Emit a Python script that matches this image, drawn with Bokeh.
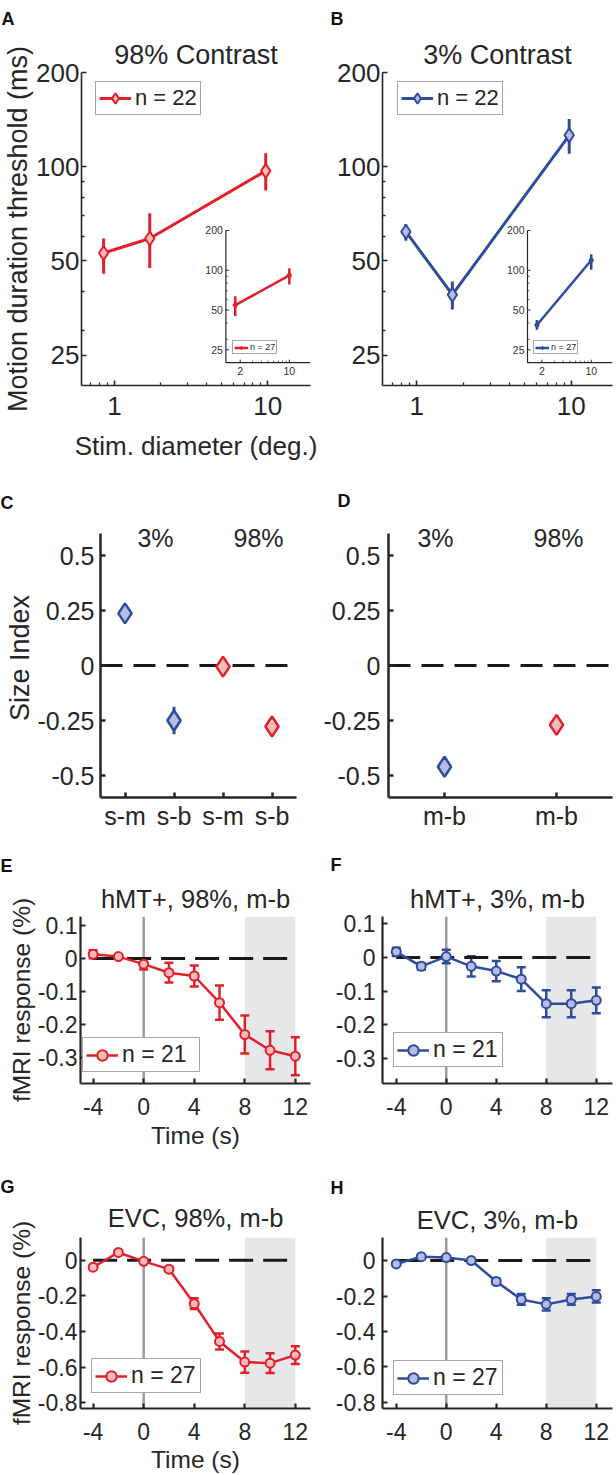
import math
from bokeh.plotting import figure
from bokeh.models import (Range1d, LogScale, FixedTicker, Label, Legend, LegendItem,
                          Whisker, TeeHead, Span, BoxAnnotation, ColumnDataSource,
                          CustomJSTickFormatter, Title)
from bokeh.layouts import row, column
from bokeh.core.properties import value
from bokeh.embed import file_html
from bokeh.resources import INLINE

# ---------------- data ----------------
# A / B : motion duration threshold (ms) vs stimulus diameter (deg.)
diameters = [0.85, 1.7, 9.7]
thr_98 = [53.0, 59.0, 97.0]
thr_98_lo = [45.5, 47.5, 84.0]
thr_98_hi = [59.0, 71.0, 110.5]
thr_3 = [62.0, 39.0, 126.0]
thr_3_lo = [58.0, 35.0, 110.0]
thr_3_hi = [65.5, 43.0, 142.0]
# insets (n = 27)
inset_diameters = [1.7, 10.0]
ins_98 = [54.5, 91.5]
ins_98_lo = [45.0, 78.0]
ins_98_hi = [63.5, 103.5]
ins_3 = [38.5, 119.0]
ins_3_lo = [35.5, 101.0]
ins_3_hi = [42.0, 132.0]
thr_ticks = [25, 50, 100, 200]
thr_minor = [30, 40, 60, 70, 80, 90]
diam_ticks = [1, 10]
diam_minor = [0.7, 0.8, 0.9, 2, 3, 4, 5, 6, 7, 8, 9]
inset_xlim = [1.25, 20.0]
inset_ylim = [20.0, 200.0]
inset_thr_ticks = [25, 50, 100, 200]
inset_diam_ticks = [2, 10]
inset_diam_minor = [3, 4, 5, 6, 7, 8, 9]

# C / D : size index
c_pos = [1, 2, 3, 4]
c_labels = ["s-m", "s-b", "s-m", "s-b"]
c_index = [0.237, -0.25, -0.005, -0.277]
c_err = [0.03, 0.062, 0.03, 0.04]
c_contrast = ["3%", "3%", "98%", "98%"]
d_pos = [1, 2]
d_labels = ["m-b", "m-b"]
d_index = [-0.46, -0.27]
d_err = [0.045, 0.02]
d_contrast = ["3%", "98%"]
size_ticks = [-0.5, -0.25, 0, 0.25, 0.5]
size_lim = [-0.6, 0.6]

# E-H : fMRI time courses (m-b)
time_s = [-4, -2, 0, 2, 4, 6, 8, 10, 12]
time_ticks = [-4, 0, 4, 8, 12]
e_val = [0.013, 0.006, -0.017, -0.043, -0.053, -0.134, -0.231, -0.279, -0.297]
e_err = [0.012, 0.005, 0.016, 0.030, 0.032, 0.052, 0.058, 0.058, 0.058]
f_val = [0.017, -0.026, 0.003, -0.026, -0.040, -0.064, -0.137, -0.137, -0.127]
f_err = [0.012, 0.010, 0.020, 0.030, 0.030, 0.035, 0.040, 0.040, 0.038]
g_val = [-0.039, 0.044, -0.006, -0.050, -0.244, -0.456, -0.572, -0.578, -0.533]
g_err = [0.010, 0.010, 0.010, 0.012, 0.030, 0.045, 0.060, 0.055, 0.050]
h_val = [-0.019, 0.022, 0.017, 0.000, -0.118, -0.219, -0.247, -0.219, -0.202]
h_err = [0.008, 0.008, 0.008, 0.008, 0.015, 0.030, 0.035, 0.030, 0.035]
hmt_ticks = [-0.3, -0.2, -0.1, 0, 0.1]
evc_ticks = [-0.8, -0.6, -0.4, -0.2, 0]
stim_window = [8, 12]

# ---------------- style ----------------
FONT = "Liberation Sans"
TXT = "#262626"
RED, RED_F = "#e3202a", "#f6bcbc"
BLUE, BLUE_F = "#2f4b9c", "#b7bce3"
COL = {"3%": (BLUE, BLUE_F), "98%": (RED, RED_F)}

# page coordinates: figure box and frame box (x0, x1, y0, y1)
LAYOUT = {
    "A": dict(fig=(0, 320, 0, 470), frame=(80, 310, 70, 385)),
    "B": dict(fig=(320, 616, 0, 470), frame=(382, 612, 70, 385)),
    "C": dict(fig=(0, 320, 470, 832), frame=(100, 296, 518, 797)),
    "D": dict(fig=(320, 616, 470, 832), frame=(381, 612, 518, 797)),
    "E": dict(fig=(0, 320, 832, 1152), frame=(80, 310, 912, 1083)),
    "F": dict(fig=(320, 616, 832, 1152), frame=(382, 612, 916, 1087)),
    "G": dict(fig=(0, 320, 1152, 1475), frame=(80, 310, 1235, 1408)),
    "H": dict(fig=(320, 616, 1152, 1475), frame=(382, 612, 1237, 1408)),
}

num_fmt = "return (Math.round(tick*1e6)/1e6).toString();"


def make_fig(key, x_range, y_range, x_type="linear", y_type="linear"):
    X0, X1, Y0, Y1 = LAYOUT[key]["fig"]
    fx0, fx1, fy0, fy1 = LAYOUT[key]["frame"]
    p = figure(width=X1 - X0, height=Y1 - Y0, x_range=x_range, y_range=y_range,
               x_axis_type=x_type, y_axis_type=y_type, output_backend="svg",
               toolbar_location=None,
               min_border_left=fx0 - X0, min_border_right=X1 - fx1,
               min_border_top=fy0 - Y0, min_border_bottom=Y1 - fy1)
    p.outline_line_color = None
    p.xgrid.visible = False
    p.ygrid.visible = False
    p.background_fill_color = "white"
    p.border_fill_color = "white"
    return p


def style_axes(p, tick_size, lw, xstand, ystand):
    for ax in (p.xaxis[0], p.yaxis[0]):
        ax.axis_line_color = TXT
        ax.axis_line_width = lw
        ax.major_tick_line_color = TXT
        ax.major_tick_line_width = lw
        ax.minor_tick_line_color = TXT
        ax.minor_tick_line_width = lw * 0.8
        ax.major_tick_in = 5
        ax.major_tick_out = 0
        ax.minor_tick_in = 3
        ax.minor_tick_out = 0
        ax.major_label_text_font = FONT
        ax.major_label_text_font_size = f"{tick_size}px"
        ax.major_label_text_color = TXT
        ax.axis_label_text_font = FONT
        ax.axis_label_text_font_style = "normal"
        ax.axis_label_text_color = TXT
    p.xaxis[0].major_label_standoff = xstand
    p.yaxis[0].major_label_standoff = ystand


def set_axis_label(ax, text, size, standoff):
    ax.axis_label = text
    ax.axis_label_text_font_size = f"{size}px"
    ax.axis_label_standoff = standoff


def set_titles(p, key, title, size, title_x, gap, letter, letter_x, letter_gap):
    """Outer (figure) title holds the panel letter; an inner Title holds the panel title."""
    fx0, fx1, fy0, fy1 = LAYOUT[key]["frame"]
    p.title.text = letter
    p.title.align = "left"
    p.title.offset = letter_x - fx0
    p.title.standoff = letter_gap
    p.title.vertical_align = "top"
    p.title.text_font = FONT
    p.title.text_font_size = "18px"
    p.title.text_font_style = "bold"
    p.title.text_color = "#111111"
    if title:
        p.add_layout(Title(text=title, align="center", offset=title_x - (fx0 + fx1) / 2,
                           standoff=gap, vertical_align="top", text_font=FONT,
                           text_font_size=f"{size}px", text_font_style="normal",
                           text_color=TXT), "above")


def add_text(p, key, px, py, text, size, align="center"):
    fx0, fx1, fy0, fy1 = LAYOUT[key]["frame"]
    p.add_layout(Label(x=px - fx0, y=fy1 - py, x_units="screen", y_units="screen",
                       text=text, text_font=FONT, text_font_size=f"{size}px",
                       text_align=align, text_baseline="middle", text_color=TXT))


def add_legend(p, renderers, label, loc, font_size, glyph_w, glyph_h, padding,
               standoff, label_width, border_w):
    lg = Legend(items=[LegendItem(label=label, renderers=renderers)], location=loc,
                label_text_font=FONT, label_text_font_size=f"{font_size}px",
                label_text_color=TXT, glyph_width=glyph_w, glyph_height=glyph_h,
                padding=padding, spacing=0, margin=0, label_standoff=standoff,
                label_width=label_width, label_height=glyph_h,
                border_line_color="#4d4d4d", border_line_width=border_w,
                background_fill_color="white", background_fill_alpha=1.0)
    p.add_layout(lg)


def log_extra(lo, hi, f0, f1, total):
    l0, l1 = math.log10(lo), math.log10(hi)
    dpp = (l1 - l0) / (f1 - f0)
    return 10 ** (l0 - f0 * dpp), 10 ** (l1 + (total - f1) * dpp)


# ---------------- A / B ----------------
def threshold_panel(key, xr, y, lo, hi, color, fill, iy, ilo, ihi, inset_left):
    p = make_fig(key, Range1d(*xr), Range1d(20, 200), "log", "log")
    style_axes(p, 26, 1.6, 11, 2)
    p.xaxis.ticker = FixedTicker(ticks=diam_ticks, minor_ticks=diam_minor)
    p.yaxis.ticker = FixedTicker(ticks=thr_ticks, minor_ticks=thr_minor)
    p.xaxis.formatter = CustomJSTickFormatter(code=num_fmt)
    p.yaxis.formatter = CustomJSTickFormatter(code=num_fmt)

    src = ColumnDataSource(dict(x=diameters, lo=lo, hi=hi))
    p.add_layout(Whisker(base="x", lower="lo", upper="hi", source=src, line_color=color,
                         line_width=3, upper_head=None, lower_head=None))
    lr = p.line(diameters, y, line_color=color, line_width=3)
    sr = p.scatter(diameters, y, marker="diamond", size=14, line_color=color,
                   fill_color=fill, line_width=2)
    fx0, fx1, fy0, fy1 = LAYOUT[key]["frame"]
    add_legend(p, [lr, sr], "n = 22", (14 if key == "A" else 15, fy1 - 115), 22,
               32, 26, 3, 4, 62, 1.5)

    # inset (drawn inside the frame through extra log scales)
    fw, fh = fx1 - fx0, fy1 - fy0
    xa, xb = log_extra(inset_xlim[0], inset_xlim[1], inset_left - fx0, fw, fw)
    ya, yb = log_extra(inset_ylim[0], inset_ylim[1], fy1 - 362, fy1 - 229, fh)
    p.extra_x_ranges = {"ix": Range1d(xa, xb)}
    p.extra_x_scales = {"ix": LogScale()}
    p.extra_y_ranges = {"iy": Range1d(ya, yb)}
    p.extra_y_scales = {"iy": LogScale()}
    rn = dict(x_range_name="ix", y_range_name="iy")
    xl, xh = inset_xlim
    yl, yh = inset_ylim
    p.segment(x0=[xl, xl], y0=[yl, yl], x1=[xl, xh], y1=[yh, yl], line_color=TXT,
              line_width=1.2, **rn)
    p.ray(x=[xl] * len(inset_thr_ticks), y=inset_thr_ticks, length=3, angle=0,
          length_units="screen", line_color=TXT, line_width=1, **rn)
    p.ray(x=[xl] * len(thr_minor), y=thr_minor, length=2, angle=0,
          length_units="screen", line_color=TXT, line_width=0.8, **rn)
    p.ray(x=inset_diam_ticks, y=[yl] * len(inset_diam_ticks), length=3,
          angle=math.pi / 2, length_units="screen", line_color=TXT, line_width=1, **rn)
    p.ray(x=inset_diam_minor, y=[yl] * len(inset_diam_minor), length=2,
          angle=math.pi / 2, length_units="screen", line_color=TXT, line_width=0.8, **rn)
    p.text(x=[xl] * len(inset_thr_ticks), y=inset_thr_ticks,
           text=[str(t) for t in inset_thr_ticks], x_offset=-3, text_align="right",
           text_baseline="middle", text_font=value(FONT), text_font_size="10.5px",
           text_color="#333333", **rn)
    p.text(x=inset_diam_ticks, y=[yl] * len(inset_diam_ticks),
           text=[str(t) for t in inset_diam_ticks], y_offset=4, text_align="center",
           text_baseline="top", text_font=value(FONT), text_font_size="10.5px",
           text_color="#333333", **rn)
    isrc = ColumnDataSource(dict(x=inset_diameters, lo=ilo, hi=ihi))
    p.add_layout(Whisker(base="x", lower="lo", upper="hi", source=isrc, line_color=color,
                         line_width=2.5, upper_head=None, lower_head=None, **rn))
    ilr = p.line(inset_diameters, iy, line_color=color, line_width=2.5, **rn)
    isr = p.scatter(inset_diameters, iy, marker="diamond", size=7, line_color=color,
                    fill_color=color, line_width=1, **rn)
    add_legend(p, [ilr, isr], "n = 27", (inset_left + 6 - fx0, fy1 - 354), 9,
               14, 9, 1, 2, 24, 1)
    return p


pA = threshold_panel("A", (0.61, 19.0), thr_98, thr_98_lo, thr_98_hi, RED, RED_F,
                     ins_98, ins_98_lo, ins_98_hi, 225)
set_axis_label(pA.xaxis[0], "Stim. diameter (deg.)", 26, 13)
set_axis_label(pA.yaxis[0], "Motion duration threshold (ms)", 27, 0)
set_titles(pA, "A", "98% Contrast", 27, 190, 2, "A", 0, 16)

pB = threshold_panel("B", (0.6, 18.5), thr_3, thr_3_lo, thr_3_hi, BLUE, BLUE_F,
                     ins_3, ins_3_lo, ins_3_hi, 527)
set_titles(pB, "B", "3% Contrast", 27, 492, 2, "B", 330, 16)


# ---------------- C / D ----------------
def index_panel(key, pos, labels, vals, errs, contrast, xr, ystand):
    fx0, fx1, fy0, fy1 = LAYOUT[key]["frame"]
    axis_top = 533  # page y of the top of the axis (0.6); frame extends above for labels
    top = size_lim[1] + (size_lim[1] - size_lim[0]) * (axis_top - fy0) / (fy1 - axis_top)
    p = make_fig(key, Range1d(*xr), Range1d(size_lim[0], top))
    style_axes(p, 25, 2.5, 4, ystand)
    p.yaxis.bounds = (size_lim[0], size_lim[1])
    p.xaxis.ticker = FixedTicker(ticks=pos, minor_ticks=[])
    p.xaxis.major_label_overrides = {k: v for k, v in zip(pos, labels)}
    p.yaxis.ticker = FixedTicker(ticks=size_ticks, minor_ticks=[])
    p.yaxis.formatter = CustomJSTickFormatter(code=num_fmt)
    p.add_layout(Span(location=0, dimension="width", line_color="#1a1a1a",
                      line_width=3, line_dash="22 11", level="underlay"))
    for c in ("3%", "98%"):
        idx = [i for i, cc in enumerate(contrast) if cc == c]
        xs = [pos[i] for i in idx]
        ys = [vals[i] for i in idx]
        src = ColumnDataSource(dict(x=xs, lo=[vals[i] - errs[i] for i in idx],
                                    hi=[vals[i] + errs[i] for i in idx]))
        line_c, fill_c = COL[c]
        p.add_layout(Whisker(base="x", lower="lo", upper="hi", source=src,
                             line_color=line_c, line_width=3, upper_head=None,
                             lower_head=None))
        p.scatter(xs, ys, marker="diamond", size=20, line_color=line_c,
                  fill_color=fill_c, line_width=2.5)
    return p


pC = index_panel("C", c_pos, c_labels, c_index, c_err, c_contrast, (0.5, 4.5), 6)
add_text(pC, "C", 155, 537, "3%", 25)
add_text(pC, "C", 258, 537, "98%", 25)
set_axis_label(pC.yaxis[0], "Size Index", 27, 0)
set_titles(pC, "C", None, 0, 0, 0, "C", 0, 7)

pD = index_panel("D", d_pos, d_labels, d_index, d_err, d_contrast, (0.5, 2.5), 8)
add_text(pD, "D", 428, 537, "3%", 25)
add_text(pD, "D", 551, 537, "98%", 25)
set_titles(pD, "D", None, 0, 0, 0, "D", 330, 11)


# ---------------- E-H ----------------
def time_panel(key, xr, yr, yticks, vals, errs, color, fill, ystand, leg_loc, label_width):
    p = make_fig(key, Range1d(*xr), Range1d(*yr))
    style_axes(p, 23, 2.2, 14, ystand)
    p.xaxis.ticker = FixedTicker(ticks=time_ticks, minor_ticks=[])
    p.yaxis.ticker = FixedTicker(ticks=yticks, minor_ticks=[])
    p.xaxis.formatter = CustomJSTickFormatter(code=num_fmt)
    p.yaxis.formatter = CustomJSTickFormatter(code=num_fmt)
    p.add_layout(BoxAnnotation(left=stim_window[0], right=stim_window[1],
                               fill_color="#e6e7e9", fill_alpha=1.0, line_color=None,
                               level="underlay"))
    p.add_layout(Span(location=0, dimension="height", line_color="#9b9b9b",
                      line_width=2.5, level="underlay"))
    p.line([time_s[0], time_s[-1]], [0, 0], line_color="#1a1a1a", line_width=3,
           line_dash="24 10")
    src = ColumnDataSource(dict(x=time_s, lo=[v - e for v, e in zip(vals, errs)],
                                hi=[v + e for v, e in zip(vals, errs)]))
    p.add_layout(Whisker(base="x", lower="lo", upper="hi", source=src, line_color=color,
                         line_width=2.5,
                         upper_head=TeeHead(size=9, line_color=color, line_width=2.5),
                         lower_head=TeeHead(size=9, line_color=color, line_width=2.5)))
    lr = p.line(time_s, vals, line_color=color, line_width=2.5)
    sr = p.scatter(time_s, vals, marker="circle", size=9, line_color=color,
                   fill_color=fill, line_width=2)
    add_legend(p, [lr, sr], leg_loc[2], leg_loc[:2], 23, 32, 26, 3, 4, label_width, 1.8)
    return p


pE = time_panel("E", (-5, 13.2), (-0.38, 0.128), hmt_ticks, e_val, e_err, RED, RED_F,
                3, (2, 11, "n = 21"), 74)
set_axis_label(pE.yaxis[0], "fMRI response (%)", 24.5, 0)
set_axis_label(pE.xaxis[0], "Time (s)", 24.5, 4)
set_titles(pE, "E", "hMT+, 98%, m-b", 25.5, 193, 4, "E", 0, 9)

pF = time_panel("F", (-5.1, 13.3), (-0.374, 0.122), hmt_ticks, f_val, f_err, BLUE, BLUE_F,
                7, (11, 16, "n = 21"), 66)
set_titles(pF, "F", "hMT+, 3%, m-b", 25.5, 494, 3, "F", 330, 13)

pG = time_panel("G", (-5, 13.2), (-0.833, 0.128), evc_ticks, g_val, g_err, RED, RED_F,
                3, (11, 15, "n = 27"), 66)
set_axis_label(pG.yaxis[0], "fMRI response (%)", 24.5, 0)
set_axis_label(pG.xaxis[0], "Time (s)", 24.5, 3)
set_titles(pG, "G", "EVC, 98%, m-b", 25.5, 193, 7, "G", 0, 3)

pH = time_panel("H", (-5.1, 13.3), (-0.834, 0.13), evc_ticks, h_val, h_err, BLUE, BLUE_F,
                7, (11, 13, "n = 27"), 66)
set_titles(pH, "H", "EVC, 3%, m-b", 25.5, 495, 3, "H", 330, 10)

layout = column(row(pA, pB, spacing=0), row(pC, pD, spacing=0),
                row(pE, pF, spacing=0), row(pG, pH, spacing=0), spacing=0)

open("out.html", "w").write(file_html(layout, INLINE))
